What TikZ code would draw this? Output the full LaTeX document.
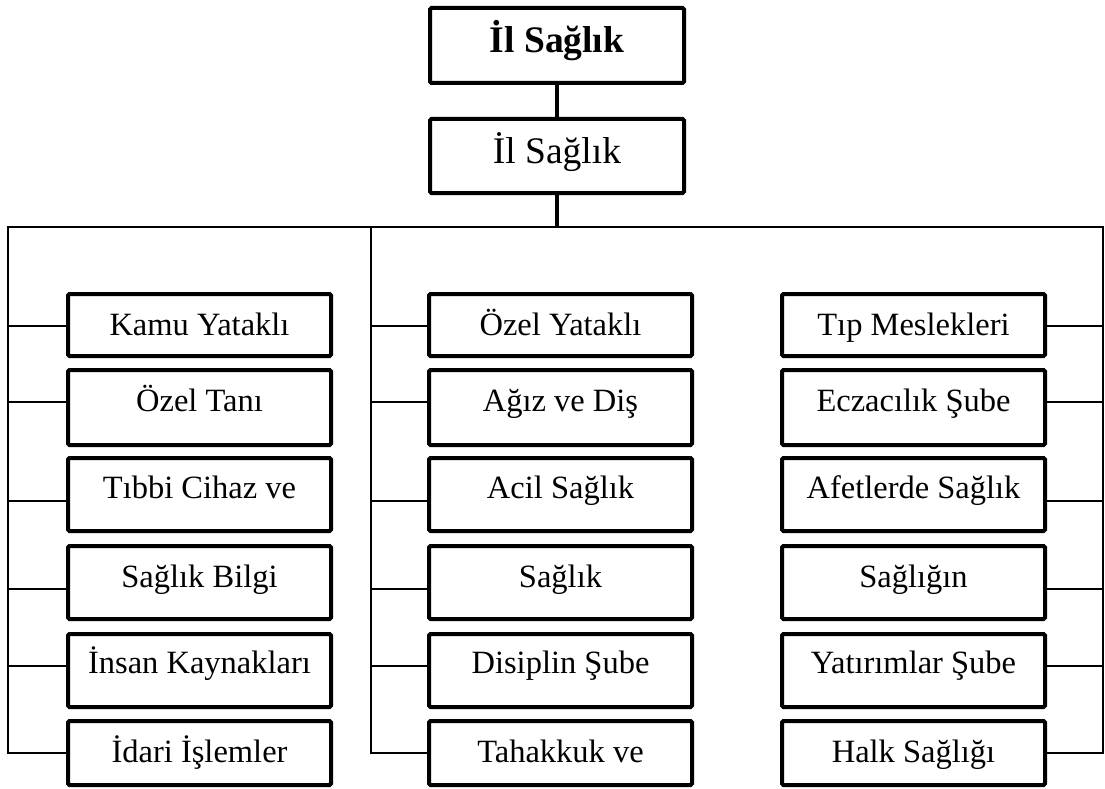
\documentclass[tikz,border=0pt]{standalone}
\usepackage{fontspec}
\setmainfont{Liberation Serif}
\begin{document}
\begin{tikzpicture}[x=1pt,y=-1pt,
  cbox/.style={draw, line width=4pt, rounded corners=1.5pt, inner sep=0pt, minimum width=263pt, fill=white},
  ctext/.style={inner sep=0pt, anchor=base, font=\fontsize{32.5}{36}\selectfont},
  topbox/.style={draw, line width=4pt, rounded corners=1.5pt, inner sep=0pt, minimum width=254pt, text height=25pt, text depth=10pt, fill=white},
  thinline/.style={line width=1.5pt, line cap=rect},
  thickline/.style={line width=4pt}]
\useasboundingbox (0,0) rectangle (1105,789);

% top boxes
\node[topbox, minimum height=75pt, font=\bfseries\fontsize{37.5}{40}\selectfont] (t0) at (557,45.5) {İl Sağlık};
\node[topbox, minimum height=74pt, font=\fontsize{37.5}{40}\selectfont] (t1) at (557,156) {İl Sağlık};

% bus coordinates
\coordinate (Lt) at (8,227);
\coordinate (Mt) at (371,227);
\coordinate (Rt) at (1103,227);
\coordinate (Lb) at (8,753);
\coordinate (Mb) at (371,753);
\coordinate (Rb) at (1103,753);

\draw[thickline] (t0.south) -- (t1.north);
\draw[thickline] (t1.south) -- (t1.south |- Lt);
\draw[thinline] (Lt) -- (Rt);
\draw[thinline] (Lt) -- (Lb);
\draw[thinline] (Mt) -- (Mb);
\draw[thinline] (Rt) -- (Rb);

\foreach \i/\cy/\h/\ty/\by/\ta/\tb/\tc in {
  1/325/62/326/335/Kamu Yataklı/Özel Yataklı/Tıp Meslekleri,
  2/407.5/75/402/411.5/Özel Tanı/Ağız ve Diş/Eczacılık Şube,
  3/494.5/73/501/498/Tıbbi Cihaz ve/Acil Sağlık/Afetlerde Sağlık,
  4/582.5/73/589/587/Sağlık Bilgi/Sağlık/Sağlığın,
  5/670.5/73/666/673.5/İnsan Kaynakları/Disiplin Şube/Yatırımlar Şube,
  6/753/64/753/762/İdari İşlemler/Tahakkuk ve/Halk Sağlığı}{
  \node[cbox, minimum height=\h pt] (l\i) at (199.5,\cy) {};
  \node[cbox, minimum height=\h pt] (m\i) at (560.5,\cy) {};
  \node[cbox, minimum height=\h pt] (r\i) at (913.5,\cy) {};
  \node[ctext] (lt\i) at (199.5,\by) {\ta};
  \node[ctext] (mt\i) at (560.5,\by) {\tb};
  \node[ctext] (rt\i) at (913.5,\by) {\tc};
  \coordinate (lc\i) at (8,\ty);
  \coordinate (mc\i) at (371,\ty);
  \coordinate (rc\i) at (1103,\ty);
  \draw[thinline] (lc\i) -- (l\i.west |- lc\i);
  \draw[thinline] (mc\i) -- (m\i.west |- mc\i);
  \draw[thinline] (r\i.east |- rc\i) -- (rc\i);
}
\end{tikzpicture}
\end{document}
